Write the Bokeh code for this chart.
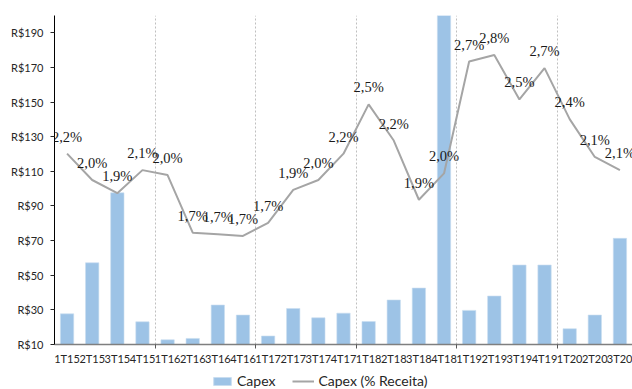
from bokeh.plotting import figure
from bokeh.layouts import column
from bokeh.models import (ColumnDataSource, Range1d, FixedTicker, Legend, LegendItem,
                          PrintfTickFormatter, LabelSet)
from bokeh.embed import file_html
from bokeh.resources import INLINE

# Quarterly capex (R$ mi) and capex as share of revenue (%)
quarters = ["1T15", "2T15", "3T15", "4T15", "1T16", "2T16", "3T16", "4T16",
            "1T17", "2T17", "3T17", "4T17", "1T18", "2T18", "3T18", "4T18",
            "1T19", "2T19", "3T19", "4T19", "1T20", "2T20", "3T20"]
capex = [27.7, 57.2, 97.6, 23.1, 12.7, 13.5, 32.8, 27.0,
         14.9, 30.8, 25.4, 28.1, 23.3, 35.7, 42.6, 230.0,
         29.7, 38.0, 55.9, 55.9, 19.1, 27.0, 71.3]
capex_pct = [2.16, 2.00, 1.92, 2.06, 2.03, 1.68, 1.67, 1.66,
             1.74, 1.94, 2.00, 2.16, 2.46, 2.24, 1.88, 2.04,
             2.72, 2.76, 2.49, 2.68, 2.37, 2.14, 2.06]
y_ticks = [10, 30, 50, 70, 90, 110, 130, 150, 170, 190]

FONT = "Lato"
BAR_COLOR = "#9DC3E6"
BAR_EDGE = "#C9DDF0"
LINE_COLOR = "#A5A5A5"
n = len(quarters)
xs = list(range(1, n + 1))
pct_labels = [f"{v:.1f}".replace(".", ",") + "%" for v in capex_pct]

# year boundaries between the last quarter of one year and the first of the next
year_breaks = [i + 0.5 for i in range(1, n) if quarters[i][2:] != quarters[i - 1][2:]]

src = ColumnDataSource(dict(x=xs, capex=capex, pct=capex_pct, lbl=pct_labels))

p = figure(width=632, height=367, output_backend="svg", toolbar_location=None,
           x_range=Range1d(0.5, n + 0.5), y_range=Range1d(10, 200),
           min_border_left=54, min_border_right=0, min_border_top=15,
           min_border_bottom=0)
p.extra_y_ranges = {"pct": Range1d(1.0, 3.0)}
p.outline_line_color = None

p.vbar(x="x", top="capex", bottom=10, width=0.53, source=src,
       fill_color=BAR_COLOR, line_color=BAR_EDGE, line_width=0.6)
p.line(x="x", y="pct", source=src, y_range_name="pct",
       line_color=LINE_COLOR, line_width=2)
labels = LabelSet(x="x", y="pct", text="lbl", source=src, y_range_name="pct",
                  text_font=FONT, text_font_size="14.5px", text_color="#1a1a1a",
                  text_align="center", text_baseline="middle", y_offset=17)
p.add_layout(labels)

# grids: dotted separators between years only
p.ygrid.grid_line_color = None
p.xgrid.ticker = FixedTicker(ticks=year_breaks)
p.xgrid.grid_line_color = "#BFBFBF"
p.xgrid.grid_line_dash = "2 2"
p.xgrid.grid_line_width = 1

# x axis
xa = p.xaxis[0]
xa.ticker = FixedTicker(ticks=xs, minor_ticks=year_breaks)
xa.major_label_overrides = {x: q for x, q in zip(xs, quarters)}
xa.major_tick_line_color = None
xa.major_tick_out = 0
xa.major_tick_in = 0
xa.minor_tick_line_color = "#595959"
xa.minor_tick_out = 4
xa.minor_tick_in = 0
xa.axis_line_color = "#7F7F7F"
xa.axis_line_width = 1.5
xa.major_label_text_font = FONT
xa.major_label_text_font_size = "11px"
xa.major_label_text_color = "#262626"
xa.major_label_standoff = 3

# y axis
ya = p.yaxis[0]
ya.ticker = FixedTicker(ticks=y_ticks)
ya.formatter = PrintfTickFormatter(format="R$%d")
ya.minor_tick_line_color = None
ya.major_tick_out = 4
ya.major_tick_in = 0
ya.major_tick_line_color = "#262626"
ya.axis_line_color = "#000000"
ya.major_label_text_font = FONT
ya.major_label_text_font_size = "11px"
ya.major_label_text_color = "#262626"
ya.major_label_standoff = 7

# legend strip below the chart; its key renderers are hidden, only their swatches show
leg = figure(width=632, height=22, output_backend="svg", toolbar_location=None,
             x_range=Range1d(0, 1), y_range=Range1d(0, 1),
             min_border=0, outline_line_color=None)
leg.axis.visible = False
leg.grid.visible = False
key_bar = leg.vbar(x="x", top="capex", width=0.5, source=src, visible=False,
                   fill_color=BAR_COLOR, line_color=BAR_EDGE)
key_line = leg.line(x="x", y="pct", source=src, visible=False,
                    line_color=LINE_COLOR, line_width=2)
legend = Legend(items=[LegendItem(label="Capex", renderers=[key_bar]),
                       LegendItem(label="Capex (% Receita)", renderers=[key_line])],
                orientation="horizontal", location=(157, 0),
                label_text_font=FONT, label_text_font_size="14px",
                label_text_color="#262626", glyph_width=22, glyph_height=10,
                spacing=17, padding=2, margin=0, label_standoff=4,
                border_line_color=None, background_fill_alpha=0)
leg.add_layout(legend, "center")

open("out.html", "w").write(file_html(column(p, leg, spacing=0), INLINE))
